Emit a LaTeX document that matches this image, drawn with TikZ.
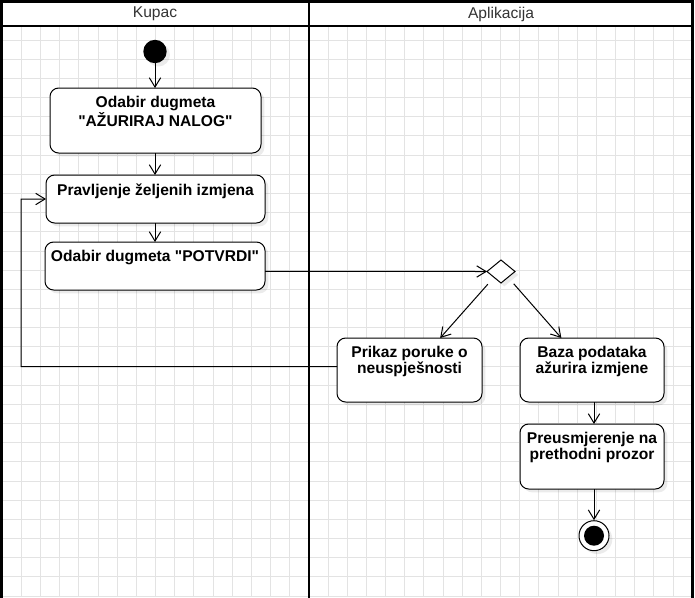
\documentclass[tikz,border=0pt]{standalone}
\usepackage{fontspec}
\setmainfont{Liberation Sans}
\usetikzlibrary{arrows.meta,shapes.geometric,shadows}

\tikzset{
	gridline/.style={black!11, line width=0.75pt},
	lane/.style={black, line width=2pt},
	act/.style={draw, rounded corners=6.5pt, fill=white, line width=0.75pt, outer sep=0pt,
		drop shadow={shadow xshift=2.5pt, shadow yshift=-2.5pt, fill=black, opacity=0.08}},
	txt/.style={anchor=north, inner sep=0pt, yshift=-6.3pt, align=center,
		font=\bfseries\fontsize{11.7}{12}\selectfont},
	flow/.style={draw, line width=0.75pt, -{Straight Barb[length=7pt,width=8.5pt]}},
	startdot/.style={circle, fill=black, minimum size=17.5pt, inner sep=0pt,
		drop shadow={shadow xshift=2.5pt, shadow yshift=-2.5pt, fill=black, opacity=0.08}},
	final/.style={circle, draw, fill=white, line width=0.75pt, minimum size=22.5pt, inner sep=0pt,
		path picture={\fill [black] (path picture bounding box.center) circle (7.5pt);},
		drop shadow={shadow xshift=2.5pt, shadow yshift=-2.5pt, fill=black, opacity=0.08}},
	branch/.style={diamond, draw, fill=white, line width=0.75pt, minimum width=21pt, minimum height=17.25pt,
		inner sep=0pt, outer sep=0pt,
		drop shadow={shadow xshift=2.5pt, shadow yshift=-2.5pt, fill=black, opacity=0.08}},
	head/.style={font=\fontsize{11.7}{12}\selectfont, text=black!80}
}

\begin{document}
\begin{tikzpicture}[x=0.75pt, y=-0.75pt]
		\useasboundingbox (0,0) rectangle (695,597);
		% grid
		\foreach \i in {0,...,36}
			\draw [gridline] ({2.2+19.17*\i},26) -- ({2.2+19.17*\i},597);
		\foreach \j in {2,...,31}
			\draw [gridline] (1.3,{1.8+19.17*\j}) -- (692.5,{1.8+19.17*\j});
		% lanes
		\draw [lane] (1.3,599) |- (692.5,1.5) -- (692.5,599);
		\draw [lane] (1.3,26) -- (692.5,26);
		\draw [lane] (309,1.5) -- (309,599);
		\node [head] at (155,14) (hk) {Kupac};
		\node [head] at (501,14) (ha) {Aplikacija};
		% activities
		\node [startdot] at (155,51.5) (s) {};
		\node [act, minimum width=158.25pt, minimum height=48.75pt,
			label={[txt]north:{Odabir dugmeta\\\textquotedbl AŽURIRAJ NALOG\textquotedbl}}] at (155.5,120.5) (b1) {};
		\node [act, minimum width=164.25pt, minimum height=36pt,
			label={[txt]north:{Pravljenje željenih izmjena}}] at (155.5,199) (b2) {};
		\node [act, minimum width=165pt, minimum height=36pt,
			label={[txt]north:{Odabir dugmeta \textquotedbl POTVRDI\textquotedbl}}] at (155,266) (b3) {};
		\node [branch] at (501,271.5) (dec) {};
		\node [act, minimum width=108.75pt, minimum height=48pt,
			label={[txt]north:{Prikaz poruke o\\neuspješnosti}}] at (409.5,370) (b4) {};
		\node [act, minimum width=108pt, minimum height=48pt,
			label={[txt]north:{Baza podataka\\ažurira izmjene}}] at (592,370) (b5) {};
		\node [act, minimum width=108pt, minimum height=48.75pt,
			label={[txt]north:{Preusmjerenje na\\prethodni prozor}}] at (592,456.5) (b6) {};
		\node [final] at (594,535.7) (e) {};
		\coordinate (loop) at (21,366.7);
		% flows
		\draw [flow] (s) -- (s |- b1.north);
		\draw [flow] (b1.south -| s) -- (b2.north -| s);
		\draw [flow] (b2.south -| s) -- (b3.north -| s);
		\draw [flow] ([yshift=-4pt]b3.east) -- (dec.west);
		\draw [flow, shorten <=7pt] (dec.south west) -- ([xshift=23pt]b4.north);
		\draw [flow, shorten <=6.5pt] (dec.south east) -- ([xshift=-23pt]b5.north);
		\draw [flow] (b5.south -| e) -- (b6.north -| e);
		\draw [flow] (b6.south -| e) -- (e);
		\draw [flow] ([yshift=2.5pt]b4.west) -- (loop) |- (b2.west);
	\end{tikzpicture}
\end{document}
